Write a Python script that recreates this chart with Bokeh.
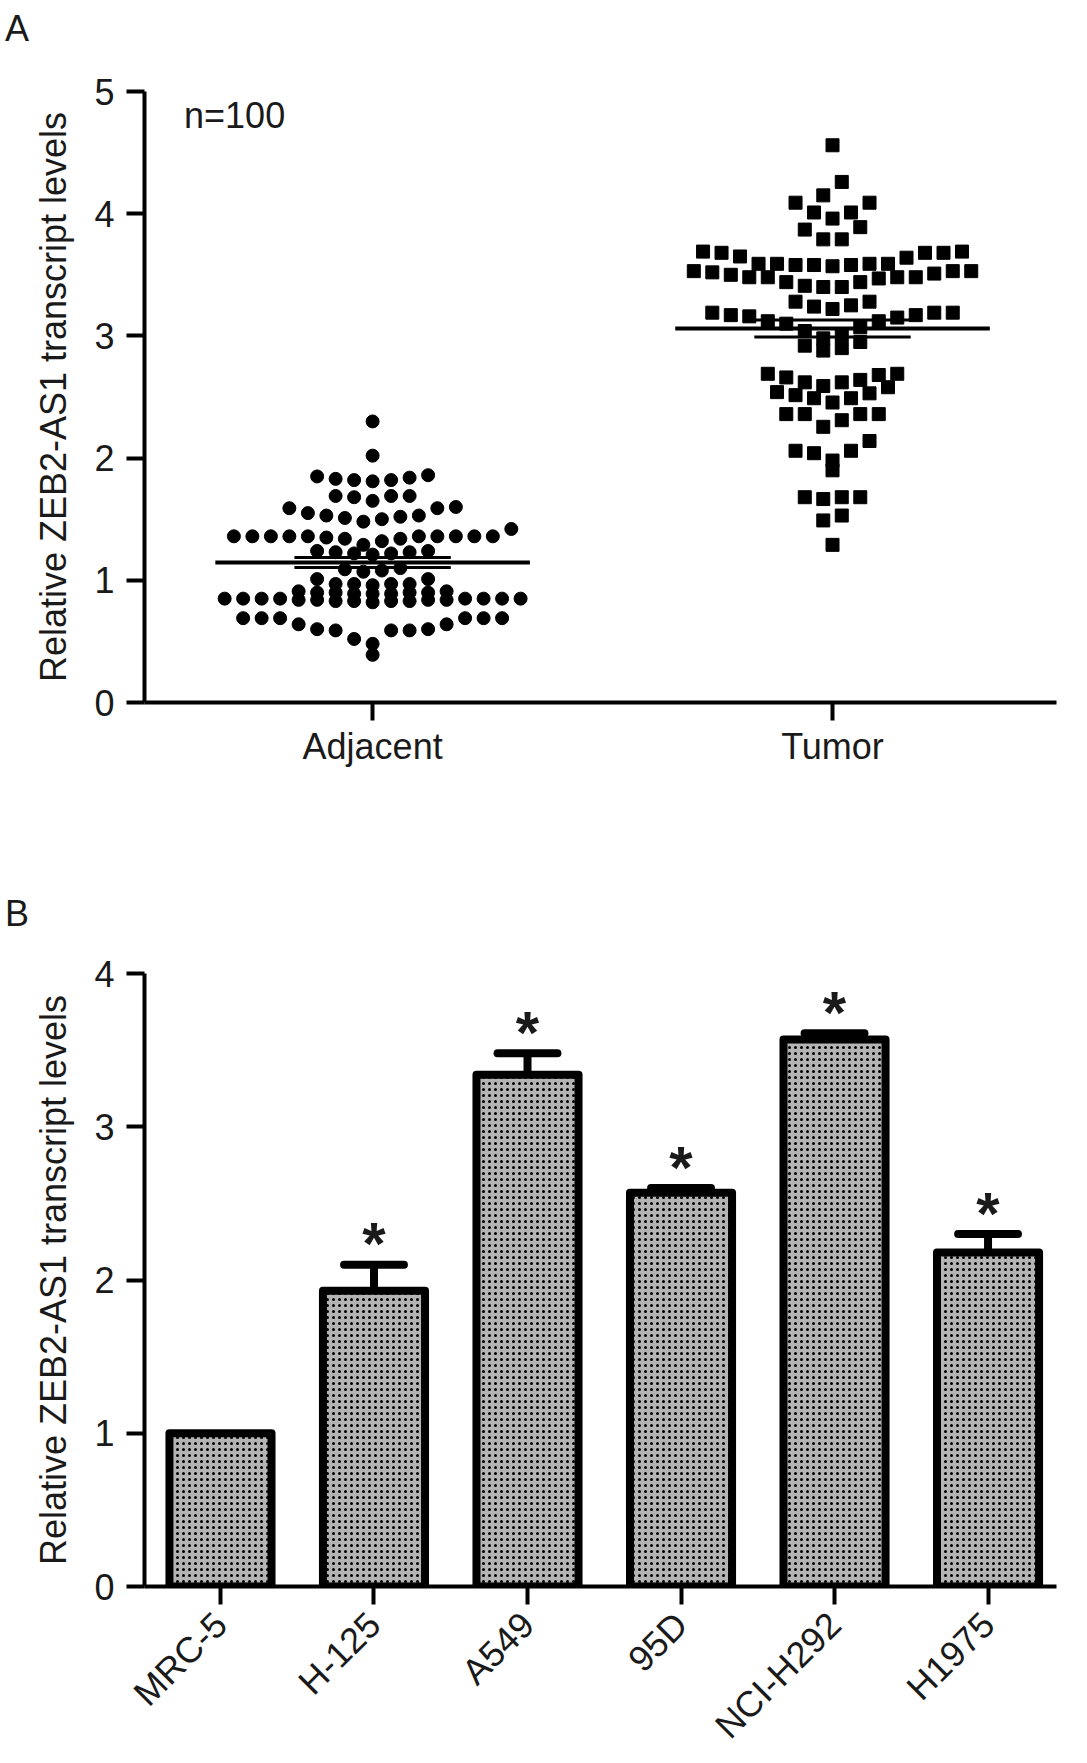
import numpy as np
from bokeh.plotting import figure
from bokeh.layouts import column
from bokeh.models import FixedTicker, Range1d, Label, Div
from bokeh.embed import file_html
from bokeh.resources import INLINE
from bokeh.core.properties import value

# ---- data (values read row by row, as GraphPad stacks them) ----
groups = ["Adjacent", "Tumor"]

adjacent_rows = [
    [2.30],
    [2.02],
    [1.86, 1.84, 1.82, 1.81, 1.82, 1.83, 1.85],
    [1.69, 1.68, 1.65, 1.69, 1.69],
    [1.59, 1.55, 1.53, 1.51, 1.48, 1.50, 1.52, 1.53, 1.59, 1.60],
    [1.42, 1.36, 1.36, 1.36, 1.36, 1.35, 1.34, 1.32, 1.29, 1.34, 1.36, 1.36, 1.36, 1.36, 1.36, 1.36],
    [1.24, 1.23, 1.22, 1.21, 1.22, 1.23, 1.24],
    [1.10, 1.08, 1.07, 1.09],
    [1.01, 0.97, 0.97, 0.96, 0.97, 0.97, 1.01],
    [0.91, 0.90, 0.90, 0.89, 0.89, 0.89, 0.90, 0.90, 0.91],
    [0.85, 0.85, 0.85, 0.85, 0.84, 0.84, 0.83, 0.83, 0.82, 0.83, 0.83, 0.84, 0.84, 0.85, 0.85, 0.85, 0.85],
    [0.69, 0.69, 0.69, 0.64, 0.59, 0.59, 0.52, 0.59, 0.60, 0.48, 0.60, 0.64, 0.69, 0.69, 0.69],
    [0.39],
]

tumor_rows = [
    [4.56],
    [4.26, 4.15],
    [4.09, 4.01, 3.96, 4.01, 4.09],
    [3.89, 3.79, 3.79, 3.87],
    [3.68, 3.68, 3.68, 3.64, 3.59, 3.59, 3.58, 3.57, 3.58, 3.59, 3.59, 3.58, 3.65, 3.69, 3.69],
    [3.53, 3.53, 3.52, 3.48, 3.48, 3.48, 3.44, 3.40, 3.40, 3.41, 3.44, 3.48, 3.47, 3.50, 3.51, 3.53],
    [3.28, 3.25, 3.22, 3.24, 3.28],
    [3.19, 3.16, 3.17, 3.17, 3.12, 3.10, 3.07, 3.04, 3.01, 2.98, 3.12, 3.15, 3.19, 3.19],
    [2.95, 2.92, 2.90, 2.88],
    [2.69, 2.66, 2.62, 2.62, 2.64, 2.68, 2.69, 2.59],
    [2.58, 2.54, 2.49, 2.455, 2.49, 2.515, 2.53],
    [2.36, 2.36, 2.31, 2.256, 2.36, 2.36],
    [2.14, 2.06, 2.06, 2.04, 1.98],
    [1.90],
    [1.68, 1.665, 1.68, 1.68],
    [1.53, 1.49],
    [1.29],
]

cell_lines = ["MRC-5", "H-125", "A549", "95D", "NCI-H292", "H1975"]
levels = [1.0, 1.93, 3.34, 2.57, 3.57, 2.18]
errors = [0.0, 0.17, 0.14, 0.03, 0.04, 0.12]
significant = [False, True, True, True, True, True]

FONT = "Liberation Sans"
FS = "36px"
YLABEL = "Relative ZEB2-AS1 transcript levels"


def swarm(rows, center, step):
    # each row is spread sideways, lowest value in the middle
    xs, ys = [], []
    for row in rows:
        n = len(row)
        pos = sorted([k - (n - 1) / 2 for k in range(n)], key=abs)
        for v, p in zip(sorted(row), pos):
            xs.append(center + p * step)
            ys.append(v)
    return xs, ys


def style_axes(p):
    for ax in (p.xaxis[0], p.yaxis[0]):
        ax.axis_line_width = 4
        ax.axis_line_color = "black"
        ax.major_tick_line_width = 4
        ax.major_tick_line_color = "black"
        ax.major_tick_out = 18
        ax.major_tick_in = 0
        ax.minor_tick_line_color = None
        ax.major_label_text_font = FONT
        ax.major_label_text_font_size = FS
        ax.major_label_text_color = "#1a1a1a"
        ax.major_label_standoff = 12
        ax.axis_label_text_font = FONT
        ax.axis_label_text_font_size = FS
        ax.axis_label_text_font_style = "normal"
        ax.axis_label_text_color = "#1a1a1a"
        ax.axis_label_standoff = 17
    p.xgrid.visible = False
    p.ygrid.visible = False
    p.outline_line_color = None


def panel_letter(letter, lh):
    return Div(text=letter, width=1071, height=50,
               styles={"font-family": FONT, "font-size": FS, "line-height": lh,
                       "color": "#1a1a1a"})


# ---- panel A ----
pa = figure(width=1071, height=828,
            x_range=Range1d(0.504, 2.487), y_range=Range1d(0, 5),
            output_backend="svg", toolbar_location=None,
            min_border_left=144, min_border_right=15,
            min_border_top=31, min_border_bottom=186)
style_axes(pa)
pa.yaxis.ticker = FixedTicker(ticks=[0, 1, 2, 3, 4, 5])
pa.xaxis.ticker = FixedTicker(ticks=[1, 2])
pa.xaxis.major_label_overrides = {1: groups[0], 2: groups[1]}
pa.xaxis.major_label_standoff = 5
pa.yaxis.axis_label = YLABEL

step = 18.5 / 460
ax_, ay_ = swarm(adjacent_rows, 1, step)
tx_, ty_ = swarm(tumor_rows, 2, step)
pa.scatter(ax_, ay_, marker="circle", size=13, color="black")
pa.scatter(tx_, ty_, marker="square", size=13, color="black")

for c, vals in ((1, ay_), (2, ty_)):
    m = np.mean(vals)
    sem = np.std(vals, ddof=1) / np.sqrt(len(vals))
    pa.segment(c - 0.342, m, c + 0.342, m, line_width=4, color="black")
    pa.segment([c - 0.17, c - 0.17], [m - sem, m + sem], [c + 0.17, c + 0.17], [m - sem, m + sem],
               line_width=3, color="black")

pa.add_layout(Label(x=0.59, y=4.80, text=f"n={len(ay_)}", text_font=FONT,
                    text_font_size=FS, text_baseline="middle", text_color="#1a1a1a"))

# ---- panel B ----
pb = figure(width=1071, height=815,
            x_range=Range1d(0.505, 6.446), y_range=Range1d(0, 4),
            output_backend="svg", toolbar_location=None,
            min_border_left=144, min_border_right=15,
            min_border_top=25, min_border_bottom=176)
style_axes(pb)
pb.yaxis.ticker = FixedTicker(ticks=[0, 1, 2, 3, 4])
xs = list(range(1, len(cell_lines) + 1))
pb.xaxis.ticker = FixedTicker(ticks=xs)
pb.xaxis.major_label_overrides = {x: n for x, n in zip(xs, cell_lines)}
pb.xaxis.major_label_orientation = np.pi / 4
pb.xaxis.major_label_standoff = 14
pb.yaxis.axis_label = YLABEL

pb.vbar(x=xs, top=levels, width=0.665, bottom=0, fill_color="#b4b4b4",
        hatch_pattern="dot", hatch_scale=6, hatch_weight=3, hatch_color="black",
        line_color="black", line_width=8, line_join="round")

ex = [x for x, e in zip(xs, errors) if e > 0]
etop = [l + e for l, e in zip(levels, errors) if e > 0]
ebase = [l for l, e in zip(levels, errors) if e > 0]
pb.segment(ex, ebase, ex, etop, line_width=8, color="black")
pb.segment([x - 0.195 for x in ex], etop, [x + 0.195 for x in ex], etop,
           line_width=8, color="black", line_cap="round")

sx = [x for x, s in zip(xs, significant) if s]
sy = [l + e for l, e, s in zip(levels, errors, significant) if s]
pb.text(sx, sy, text=["*"] * len(sx), text_font=value(FONT), text_font_size=value("60px"),
        text_font_style="bold", text_align="center", text_baseline="middle",
        y_offset=-21, text_color="#1a1a1a")

page = column(panel_letter("A", "47px"), pa, panel_letter("B", "41px"), pb)
open("out.html", "w").write(file_html(page, INLINE))
